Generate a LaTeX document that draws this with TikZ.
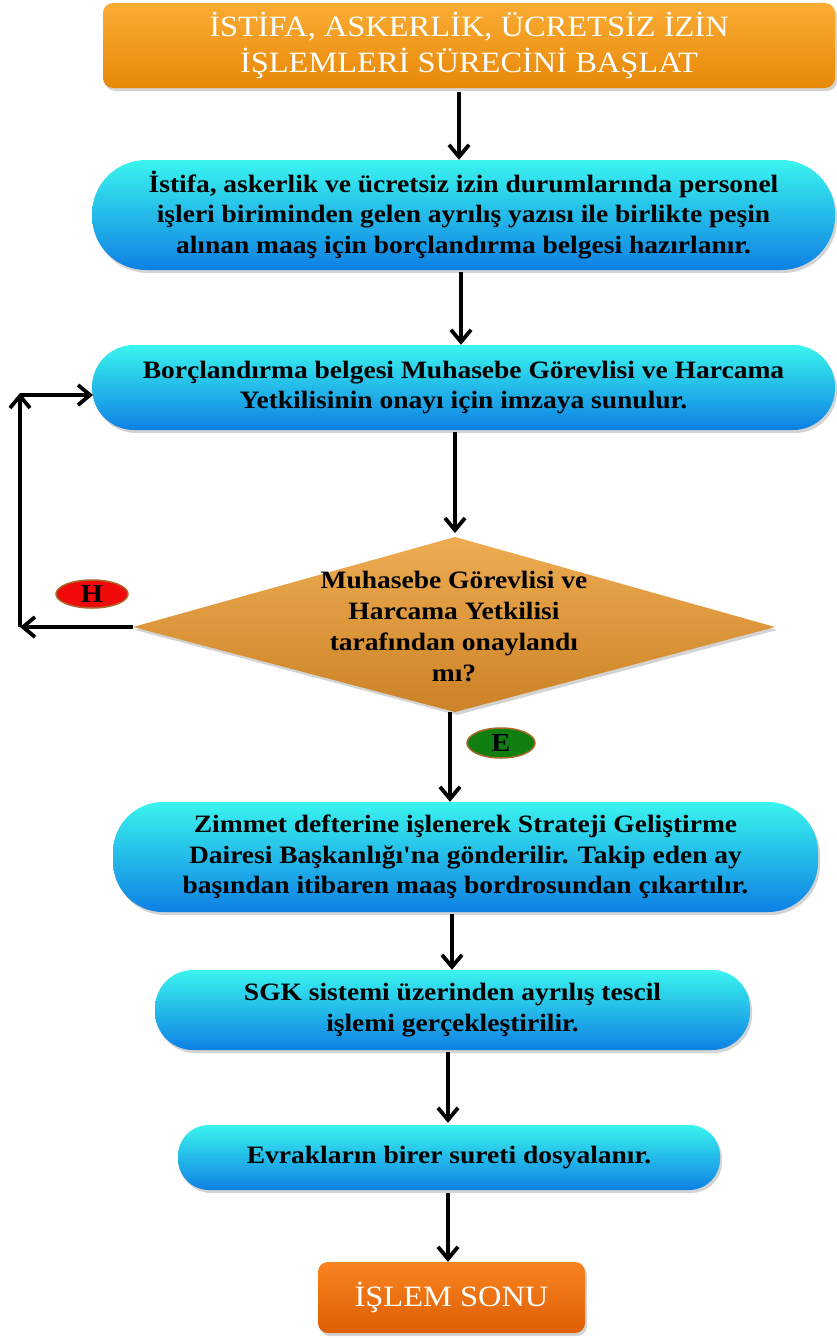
\documentclass[tikz,border=0pt]{standalone}
\usepackage{fontspec}
\setmainfont{Liberation Serif}[FakeStretch=1.1,Ligatures=TeXOff]
\usetikzlibrary{arrows.meta,shadows,calc,shapes.geometric}
\definecolor{cyanT}{RGB}{58,244,238}
\definecolor{cyanB}{RGB}{14,128,228}
\definecolor{orT}{RGB}{250,172,52}
\definecolor{orB}{RGB}{232,136,8}
\definecolor{endT}{RGB}{248,132,32}
\definecolor{endB}{RGB}{222,94,4}
\definecolor{dmT}{RGB}{238,172,82}
\definecolor{dmB}{RGB}{204,130,38}
\definecolor{hRed}{RGB}{240,10,10}
\definecolor{eGreen}{RGB}{16,126,16}
\definecolor{ringBr}{RGB}{168,104,40}
\begin{document}
\begin{tikzpicture}[x=1pt,y=-1pt,
  shd/.style={drop shadow={opacity=0.35,shadow xshift=2pt,shadow yshift=-3pt}},
  bluebox/.style={shd,top color=cyanT,bottom color=cyanB,draw=none,align=center,
    font=\bfseries\fontsize{25pt}{30.5pt}\selectfont,inner sep=0pt},
  orbox/.style={shd,top color=orT,bottom color=orB,rounded corners=10pt,align=center,
    text=white,font=\fontsize{29.5pt}{36pt}\selectfont,inner sep=0pt},
  endbox/.style={shd,top color=endT,bottom color=endB,rounded corners=10pt,align=center,
    text=white,font=\fontsize{29.5pt}{36pt}\selectfont,inner sep=0pt},
  lbl/.style={ellipse,draw=ringBr,line width=1.5pt,inner sep=0pt,font=\bfseries\fontsize{26pt}{26pt}\selectfont},
  arr/.style={line width=3.8pt,-{Straight Barb[length=12pt,width=20pt]}}]
\useasboundingbox (0,0) rectangle (837,1338);

\node[orbox,minimum width=732pt,minimum height=85pt] (top) at (469,45.5)
  {İSTİFA, ASKERLİK, ÜCRETSİZ İZİN\\İŞLEMLERİ SÜRECİNİ BAŞLAT};
\node[bluebox,minimum width=743pt,minimum height=110pt,rounded corners=54pt] (b1) at (463.5,215)
  {İstifa, askerlik ve ücretsiz izin durumlarında personel\\işleri biriminden gelen ayrılış yazısı ile birlikte peşin\\alınan maaş için borçlandırma belgesi hazırlanır.};
\node[bluebox,minimum width=743pt,minimum height=85pt,rounded corners=42pt] (b2) at (463.5,387.5)
  {Borçlandırma belgesi Muhasebe Görevlisi ve Harcama\\Yetkilisinin onayı için imzaya sunulur.};

% decision diamond
\coordinate (dtop) at (455,537);
\coordinate (dright) at (775,627);
\coordinate (dbot) at (455,712);
\coordinate (dleft) at (133,627);
\path[shd,top color=dmT,bottom color=dmB] (dtop) -- (dright) -- (dbot) -- (dleft) -- cycle;
\node[align=center,font=\bfseries\fontsize{25pt}{31pt}\selectfont] (q) at (454,626)
  {Muhasebe Görevlisi ve\\Harcama Yetkilisi\\tarafından onaylandı\\mı?};

\node[bluebox,minimum width=705pt,minimum height=110pt,rounded corners=50pt] (b3) at (465.5,857)
  {Zimmet defterine işlenerek Strateji Geliştirme\\Dairesi Başkanlığı'na gönderilir. Takip eden ay\\başından itibaren maaş bordrosundan çıkartılır.};
\node[bluebox,minimum width=595pt,minimum height=80pt,rounded corners=38pt] (b4) at (452.5,1010)
  {SGK sistemi üzerinden ayrılış tescil\\işlemi gerçekleştirilir.};
\node[bluebox,minimum width=542pt,minimum height=65pt,rounded corners=31pt] (b5) at (449,1157.5)
  {Evrakların birer sureti dosyalanır.};
\node[endbox,minimum width=267pt,minimum height=71pt] (end) at (451.5,1297.5) {İŞLEM SONU};

\node[lbl,fill=hRed,minimum width=72pt,minimum height=28pt] (H) at (92,594) {H};
\node[lbl,fill=eGreen,minimum width=68pt,minimum height=30pt] (E) at (501,743) {E};

% arrow columns
\coordinate (x1) at (459,0);
\coordinate (x2) at (461,0);
\coordinate (x3) at (455,0);
\coordinate (x4) at (450,0);
\coordinate (x5) at (452,0);
\coordinate (x6) at (448,0);
\draw[arr] ($(top.south -| x1)+(0,4)$) -- (b1.north -| x1);
\draw[arr] ($(b1.south -| x2)+(0,2)$) -- (b2.north -| x2);
\draw[arr] ($(b2.south -| x3)+(0,2)$) -- ($(dtop)+(0,-4)$);
\draw[arr] (dbot -| x4) -- (b3.north -| x4);
\draw[arr] ($(b3.south -| x5)+(0,2)$) -- (b4.north -| x5);
\draw[arr] ($(b4.south -| x6)+(0,2)$) -- ($(b5.north -| x6)+(0,-2)$);
\draw[arr] ($(b5.south -| x6)+(0,3)$) -- (end.north -| x6);

% loop back
\coordinate (c1) at (20,627);
\coordinate (c2) at (20,393);
\coordinate (c3) at (20,395);
\coordinate (c4) at (93,395);
\draw[arr] (dleft) -- (c1);
\draw[arr] (c1) -- (c2);
\draw[arr] (c3) -- (c4);
\end{tikzpicture}
\end{document}
